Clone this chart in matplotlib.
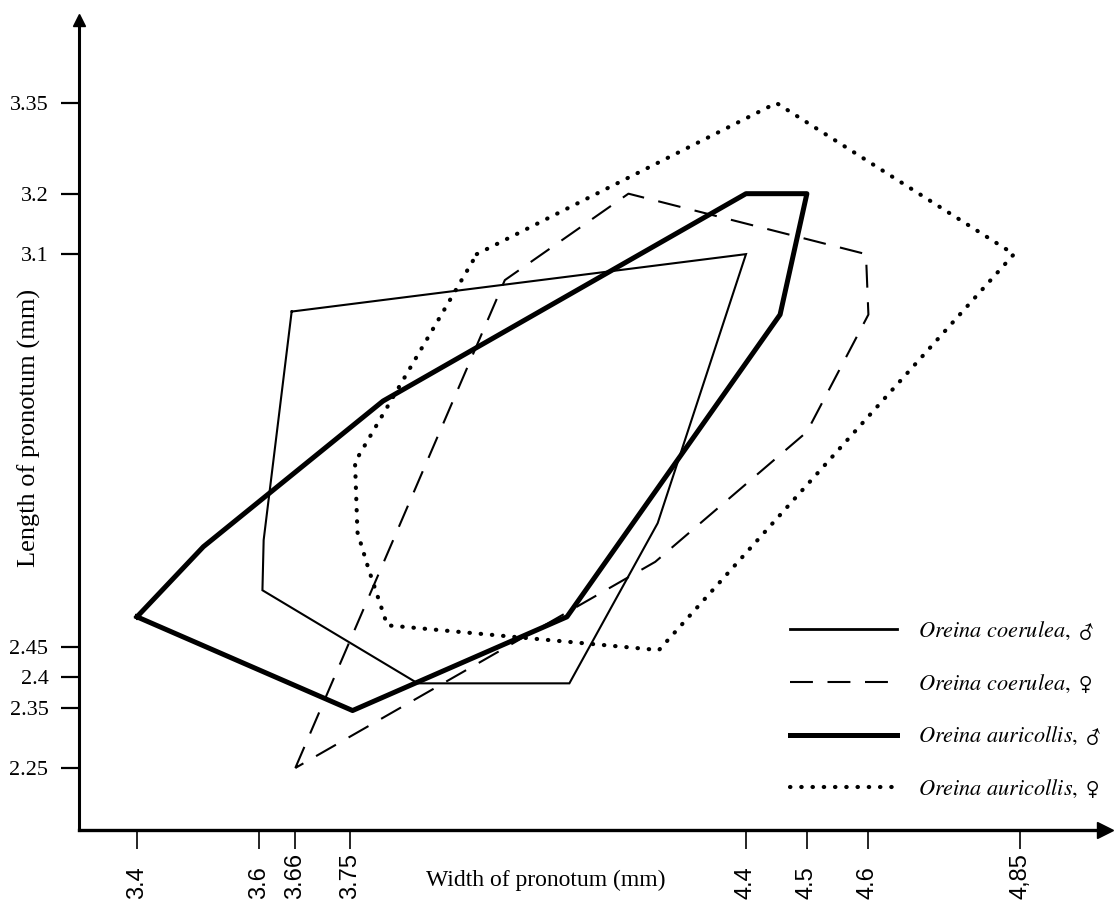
import matplotlib
matplotlib.use('Agg')
import matplotlib.pyplot as plt

plt.rcParams['font.family'] = ['Liberation Serif', 'DejaVu Sans']
plt.rcParams['mathtext.fontset'] = 'stix'

# polygon outlines, width / length of pronotum (mm)
coerulea_m_w = [3.654, 4.40, 4.255, 4.11, 3.861, 3.606, 3.608, 3.654]
coerulea_m_l = [3.005, 3.10, 2.655, 2.39, 2.390, 2.544, 2.627, 3.005]

coerulea_f_w = [3.66, 4.004, 4.207, 4.597, 4.601, 4.50, 4.251, 3.66]
coerulea_f_l = [2.25, 3.057, 3.200, 3.100, 3.000, 2.806, 2.591, 2.25]

auricollis_m_w = [3.40, 3.509, 3.804, 4.40, 4.50, 4.456, 4.106, 3.754, 3.40]
auricollis_m_l = [2.50, 2.616, 2.857, 3.20, 3.20, 3.000, 2.500, 2.345, 2.50]

auricollis_f_w = [3.958, 4.45, 4.84, 4.257, 3.811, 3.780, 3.762, 3.758, 3.958]
auricollis_f_l = [3.100, 3.35, 3.10, 2.445, 2.486, 2.580, 2.640, 2.756, 3.100]

x_ticks = [3.4, 3.6, 3.66, 3.75, 4.4, 4.5, 4.6, 4.85]
x_tick_labels = ['3.4', '3.6', '3.66', '3.75', '4.4', '4.5', '4.6', '4,85']
y_ticks = [2.25, 2.35, 2.4, 2.45, 3.1, 3.2, 3.35]
y_tick_labels = ['2.25', '2.35', '2.4', '2.45', '3.1', '3.2', '3.35']

labels = [r'$\mathit{Oreina\ coerulea},\ \mathrm{♂}$',
          r'$\mathit{Oreina\ coerulea},\ \mathrm{♀}$',
          r'$\mathit{Oreina\ auricollis},\ \mathrm{♂}$',
          r'$\mathit{Oreina\ auricollis},\ \mathrm{♀}$']

fig = plt.figure(figsize=(11.17, 9.0), dpi=100)
ax = fig.add_axes([79 / 1117, 70 / 900, 1026 / 1117, 810 / 900])

l1, = ax.plot(coerulea_m_w, coerulea_m_l, color='black', lw=1.5,
              solid_joinstyle='miter')
l2, = ax.plot(coerulea_f_w, coerulea_f_l, color='black', lw=1.5,
              linestyle=(0, (11, 7)))
l3, = ax.plot(auricollis_m_w, auricollis_m_l, color='black', lw=3.6,
              solid_joinstyle='round')
l4, = ax.plot(auricollis_f_w, auricollis_f_l, color='black', lw=3.0,
              linestyle=(0, (0.1, 2.6)), dash_capstyle='round')

ax.set_xlim(3.3048, 4.9895)
ax.set_ylim(2.1474, 3.4873)

for side in ['top', 'right']:
    ax.spines[side].set_visible(False)
ax.spines['left'].set_linewidth(2.2)
ax.spines['bottom'].set_linewidth(2.4)

# arrow heads at the axis ends
ax.plot(1, 0, '>', color='black', ms=11, transform=ax.transAxes, clip_on=False)
ax.plot(0, 1, '^', color='black', ms=9, transform=ax.transAxes, clip_on=False)

ax.set_xticks(x_ticks)
ax.set_xticklabels(x_tick_labels, rotation=90, family=['Liberation Sans'],
                   fontsize=17, va='bottom')
ax.set_yticks(y_ticks)
ax.set_yticklabels(y_tick_labels, fontsize=16)
# x labels sit on the bottom edge, reading upwards
ax.tick_params(axis='x', direction='out', length=14, width=1.2, pad=35.5)
ax.tick_params(axis='y', direction='out', length=13, width=1.6, pad=9)

ax.set_xlabel('Width of pronotum (mm)', fontsize=17, va='center')
ax.xaxis.set_label_coords(0.455, -0.0617)
ax.set_ylabel('Length of pronotum (mm)', fontsize=19, va='center')
ax.yaxis.set_label_coords(-0.048, 0.496)

leg = ax.legend([l1, l2, l3, l4], labels, loc='upper left',
                bbox_to_anchor=(790 / 1117, 1 - 620 / 900),
                bbox_transform=fig.transFigure, frameon=False,
                prop=dict(size=16),
                handlelength=4.8, handletextpad=0.95, labelspacing=1.38,
                borderpad=0, borderaxespad=0)
leg.get_lines()[0].set_linewidth(2.0)

fig.savefig('out.png', dpi=100)
